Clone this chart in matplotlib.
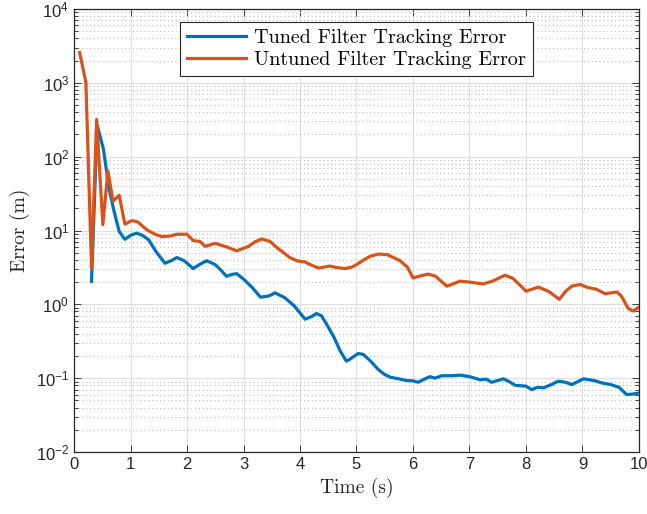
import math
import matplotlib
matplotlib.use("Agg")
import matplotlib.pyplot as plt
from matplotlib.ticker import LogLocator, FixedLocator, FuncFormatter, NullFormatter

# Tracking error of the tuned filter (time in s, error in m)
tuned_t = [0.31, 0.41, 0.52, 0.62, 0.71, 0.80, 0.90, 1.00, 1.11, 1.20, 1.32, 1.45, 1.61,
           1.72, 1.82, 1.95, 2.11, 2.23, 2.35, 2.50, 2.60, 2.70, 2.80, 2.88, 3.00,
           3.15, 3.30, 3.45, 3.56, 3.73, 3.90, 4.09, 4.20, 4.29, 4.38, 4.47, 4.60,
           4.71, 4.82, 4.88, 5.03, 5.12, 5.25, 5.39, 5.50, 5.60, 5.75, 5.88, 6.00,
           6.09, 6.20, 6.30, 6.39, 6.51, 6.70, 6.83, 7.00, 7.19, 7.30, 7.39, 7.50,
           7.60, 7.70, 7.81, 8.00, 8.10, 8.20, 8.31, 8.45, 8.57, 8.70, 8.81, 8.92,
           9.02, 9.20, 9.35, 9.50, 9.65, 9.78, 9.90, 10.00]
tuned_err = [2.05, 265, 127, 37, 18, 9.7, 7.6, 8.6, 9.2, 8.7, 7.5, 5.2, 3.6,
             3.9, 4.3, 3.9, 3.05, 3.5, 3.9, 3.45, 2.9, 2.4, 2.55, 2.6, 2.2,
             1.7, 1.25, 1.3, 1.43, 1.23, 0.95, 0.63, 0.68, 0.75, 0.70, 0.54, 0.36,
             0.235, 0.17, 0.18, 0.216, 0.21, 0.17, 0.13, 0.112, 0.103, 0.098, 0.093, 0.092,
             0.088, 0.097, 0.105, 0.1, 0.108, 0.108, 0.11, 0.105, 0.095, 0.097, 0.088, 0.093,
             0.098, 0.09, 0.08, 0.078, 0.07, 0.075, 0.074, 0.082, 0.091, 0.088, 0.082, 0.09,
             0.098, 0.093, 0.086, 0.082, 0.075, 0.06, 0.061, 0.063]

# Tracking error of the untuned filter
untuned_t = [0.10, 0.21, 0.31, 0.40, 0.51, 0.60, 0.69, 0.80, 0.90, 1.02, 1.12, 1.29, 1.42,
             1.55, 1.70, 1.82, 2.00, 2.11, 2.23, 2.32, 2.50, 2.70, 2.88, 3.09, 3.20,
             3.32, 3.47, 3.60, 3.71, 3.82, 3.94, 4.09, 4.20, 4.33, 4.53, 4.65, 4.80,
             4.92, 5.00, 5.15, 5.25, 5.39, 5.55, 5.77, 5.90, 6.00, 6.15, 6.27, 6.40,
             6.60, 6.83, 7.00, 7.24, 7.40, 7.63, 7.77, 7.90, 8.00, 8.22, 8.40, 8.59,
             8.70, 8.81, 8.96, 9.07, 9.25, 9.40, 9.61, 9.69, 9.81, 9.90, 10.00]
untuned_err = [2570, 1020, 3.1, 320, 12, 64, 25, 30, 12.2, 13.6, 13.2, 10.2, 9.0,
               8.3, 8.4, 8.9, 8.9, 7.3, 7.1, 6.1, 6.7, 6.0, 5.3, 6.1, 7.0,
               7.7, 7.1, 5.8, 5.0, 4.3, 3.9, 3.74, 3.4, 3.1, 3.3, 3.15, 3.05,
               3.2, 3.45, 4.1, 4.5, 4.8, 4.7, 3.9, 3.2, 2.28, 2.45, 2.57, 2.4,
               1.76, 2.06, 2.0, 1.89, 2.05, 2.48, 2.24, 1.8, 1.51, 1.71, 1.5, 1.17,
               1.5, 1.76, 1.86, 1.71, 1.6, 1.39, 1.47, 1.29, 0.88, 0.81, 0.92]

legend_labels = ["Tuned Filter Tracking Error", "Untuned Filter Tracking Error"]
x_ticks = list(range(0, 11))
y_decades = [-2, -1, 0, 1, 2, 3, 4]

plt.rcParams["mathtext.fontset"] = "custom"
plt.rcParams["mathtext.rm"] = "Liberation Sans"
plt.rcParams["mathtext.it"] = "Liberation Sans:italic"
plt.rcParams["mathtext.bf"] = "Liberation Sans:bold"
plt.rcParams["font.family"] = "Liberation Sans"

fig = plt.figure(figsize=(6.47, 5.14), dpi=100)
ax = fig.add_axes([0.1144, 0.1206, 0.8732, 0.8619])

ax.plot(tuned_t, tuned_err, color="#0072BD", lw=2.3, label=legend_labels[0], zorder=3)
ax.plot(untuned_t, untuned_err, color="#D95319", lw=2.3, label=legend_labels[1], zorder=3)

ax.set_yscale("log")
ax.set_xlim(0, 10)
ax.set_ylim(1e-2, 1e4)
ax.xaxis.set_major_locator(FixedLocator(x_ticks))
ax.yaxis.set_major_locator(FixedLocator([10.0 ** d for d in y_decades]))
ax.yaxis.set_minor_locator(LogLocator(base=10, subs=range(2, 10), numticks=20))
ax.yaxis.set_minor_formatter(NullFormatter())
ax.yaxis.set_major_formatter(FuncFormatter(lambda v, p: r"$10^{%d}$" % round(math.log10(v))))

ax.grid(True, which="major", color="#DFDFDF", lw=0.8, ls="-", zorder=0)
ax.grid(True, which="minor", axis="y", color="#BDBDBD", lw=0.8, ls=(0, (1, 2.5)), zorder=0)
ax.set_axisbelow(True)

ax.tick_params(which="both", direction="in", top=True, right=True, colors="#262626",
               labelsize=12, width=0.6)
ax.tick_params(which="major", length=5)
ax.tick_params(which="minor", length=3)
for s in ax.spines.values():
    s.set_color("#262626")
    s.set_linewidth(0.9)

ax.set_xlabel("Time (s)", fontfamily="cmr10", fontsize=14, color="#262626", labelpad=4)
ax.set_ylabel("Error (m)", fontfamily="cmr10", fontsize=14, color="#262626", labelpad=4)

leg = ax.legend(loc="upper center", bbox_to_anchor=(0.5, 0.985), prop={"family": "cmr10", "size": 14.5},
                fancybox=False, framealpha=1, edgecolor="#262626", handlelength=2.9,
                borderpad=0.35, labelspacing=0.2, handletextpad=0.4, borderaxespad=0.3)
leg.get_frame().set_linewidth(0.8)

fig.savefig("out.png", dpi=100)
